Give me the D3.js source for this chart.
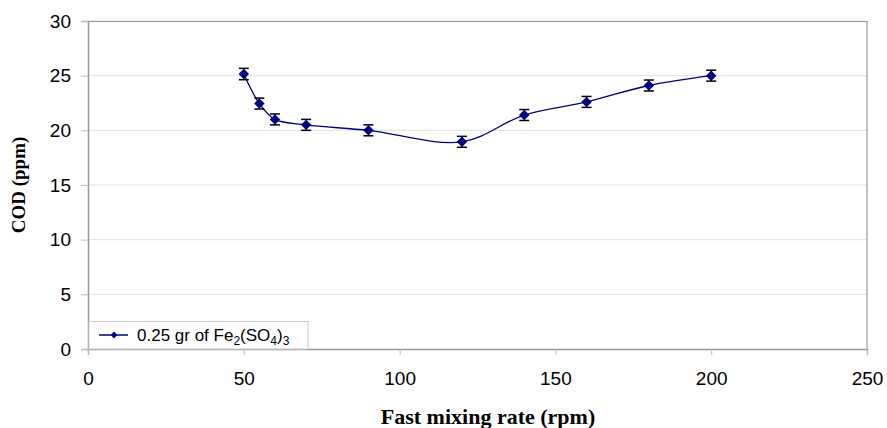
<!DOCTYPE html>
<html>
<head>
<meta charset="utf-8">
<script src="https://cdn.jsdelivr.net/npm/d3@7"></script>
<style>
  body { margin: 0; background: #fff; }
  svg text { font-family: "Liberation Sans", Arial, sans-serif; }
</style>
</head>
<body>
<div id="chart"></div>
<script>
// data
const mixingRate = [50, 55, 60, 70, 90, 120, 140, 160, 180, 200];
const cod = [25.15, 22.45, 21.0, 20.5, 20.0, 18.95, 21.4, 22.6, 24.1, 25.0];
const codErr = [0.52, 0.5, 0.5, 0.5, 0.5, 0.5, 0.5, 0.5, 0.5, 0.5];
const xTicks = [0, 50, 100, 150, 200, 250];
const yTicks = [0, 5, 10, 15, 20, 25, 30];
const seriesName = "0.25 gr of Fe";

const config = { width: 887, height: 428, left: 88, right: 20, top: 21, bottom: 79 };
const w = config.width - config.left - config.right;
const h = config.height - config.top - config.bottom;

const svg = d3.select("#chart")
  .append("svg")
  .attr("width", config.width)
  .attr("height", config.height);

const g = svg.append("g")
  .attr("transform", `translate(${config.left},${config.top})`);

const xScale = d3.scaleLinear().domain([0, 250]).range([0, w]);
const yScale = d3.scaleLinear().domain([0, 30]).range([h, 0]);

// horizontal gridlines
g.selectAll(".grid")
  .data(yTicks.filter(d => d > 0))
  .enter()
  .append("line")
    .attr("x1", 0)
    .attr("x2", w)
    .attr("y1", d => yScale(d))
    .attr("y2", d => yScale(d))
    .attr("stroke", "#e0e0e0")
    .attr("stroke-width", 1);

// plot frame (top / right)
g.append("path")
  .attr("d", `M0,0.5H${w}V${h}`)
  .attr("fill", "none")
  .attr("stroke", "#999")
  .attr("stroke-width", 1.2);

const yAxis = d3.axisLeft(yScale).tickValues(yTicks).tickSize(7).tickPadding(10);
const xAxis = d3.axisBottom(xScale).tickValues(xTicks).tickSize(6).tickPadding(17);

const yg = g.append("g").call(yAxis);
const xg = g.append("g").attr("transform", `translate(0,${h})`).call(xAxis);

[yg, xg].forEach(a => {
  a.select(".domain").attr("stroke", "#999").attr("stroke-width", 1.5);
  a.selectAll(".tick line").attr("stroke", "#bbb");
  a.selectAll(".tick text")
    .attr("fill", "#000")
    .style("font-size", "19px")
    .style("font-family", "'Liberation Sans', Arial, sans-serif");
});

// axis titles
svg.append("text")
  .attr("transform", `translate(25,185) rotate(-90)`)
  .attr("text-anchor", "middle")
  .style("font-family", "'Liberation Serif', 'Times New Roman', serif")
  .style("font-weight", "bold")
  .style("font-size", "19px")
  .text("COD (ppm)");

svg.append("text")
  .attr("x", 488)
  .attr("y", 424)
  .attr("text-anchor", "middle")
  .style("font-family", "'Liberation Serif', 'Times New Roman', serif")
  .style("font-weight", "bold")
  .style("font-size", "22px")
  .text("Fast mixing rate (rpm)");

const points = mixingRate.map((x, i) => ({ x: x, y: cod[i], e: codErr[i] }));
const navy = "#000080";

const line = d3.line()
  .x(d => xScale(d.x))
  .y(d => yScale(d.y))
  .curve(d3.curveCatmullRom.alpha(0.5));

g.append("path")
  .datum(points)
  .attr("d", line)
  .attr("fill", "none")
  .attr("stroke", navy)
  .attr("stroke-width", 1.3);

// error bars
const eb = g.selectAll(".err")
  .data(points)
  .enter()
  .append("g");

eb.append("line")
  .attr("x1", d => xScale(d.x)).attr("x2", d => xScale(d.x))
  .attr("y1", d => yScale(d.y + d.e)).attr("y2", d => yScale(d.y - d.e))
  .attr("stroke", "#000").attr("stroke-width", 1.2);
eb.selectAll(".cap")
  .data(d => [d.y + d.e, d.y - d.e].map(v => ({ x: d.x, v: v })))
  .enter()
  .append("line")
    .attr("x1", d => xScale(d.x) - 5).attr("x2", d => xScale(d.x) + 5)
    .attr("y1", d => yScale(d.v)).attr("y2", d => yScale(d.v))
    .attr("stroke", "#000").attr("stroke-width", 1.5);

const diamond = d3.symbol().type(d3.symbolDiamond2).size(70);
g.selectAll(".marker")
  .data(points)
  .enter()
  .append("path")
    .attr("d", diamond)
    .attr("transform", d => `translate(${xScale(d.x)},${yScale(d.y)})`)
    .attr("fill", navy);

// legend
const lg = g.append("g").attr("transform", `translate(1,${h - 27.5})`);
lg.append("rect")
  .attr("width", 219)
  .attr("height", 27.5)
  .attr("fill", "#fff")
  .attr("stroke", "#ccc");
lg.append("line")
  .attr("x1", 10).attr("x2", 39)
  .attr("y1", 13.5).attr("y2", 13.5)
  .attr("stroke", navy).attr("stroke-width", 1.5);
lg.append("path")
  .attr("d", d3.symbol().type(d3.symbolDiamond2).size(30))
  .attr("transform", "translate(25,13.5)")
  .attr("fill", navy);
const lt = lg.append("text")
  .attr("x", 48)
  .attr("y", 19.5)
  .style("font-size", "17px")
  .attr("fill", "#000");
lt.append("tspan").text(seriesName);
lt.append("tspan").attr("dy", 4).style("font-size", "12px").text("2");
lt.append("tspan").attr("dy", -4).text("(SO");
lt.append("tspan").attr("dy", 4).style("font-size", "12px").text("4");
lt.append("tspan").attr("dy", -4).text(")");
lt.append("tspan").attr("dy", 4).style("font-size", "12px").text("3");
</script>
</body>
</html>
